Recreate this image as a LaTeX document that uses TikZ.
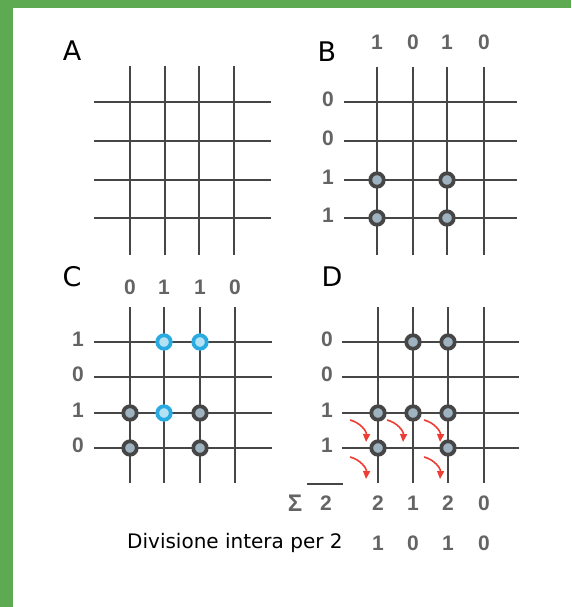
\documentclass[tikz,border=0pt]{standalone}
\usepackage{fontspec}
\setmainfont{Liberation Sans}
\newfontfamily\scritta{DejaVu Sans}
\usetikzlibrary{arrows.meta}
\definecolor{verdebordo}{RGB}{94,170,83}
\definecolor{grigiofilo}{RGB}{70,70,70}
\definecolor{grigiocifra}{RGB}{100,100,100}
\definecolor{grigionodo}{RGB}{158,178,192}
\definecolor{azzurro}{RGB}{41,171,226}
\definecolor{rossofreccia}{RGB}{236,62,52}
\tikzset{
  filo/.style    = {draw=grigiofilo, line width=2.2pt},
  nodo/.style    = {circle, draw=grigiofilo, line width=3.8pt, fill=grigionodo, minimum size=13.5pt, inner sep=0},
  nodoblu/.style = {circle, draw=azzurro, line width=3.8pt, fill=azzurro!35, minimum size=13.5pt, inner sep=0},
  cifra/.style   = {text=grigiocifra, font=\fontsize{21}{21}\selectfont\bfseries, inner sep=0},
  lettera/.style = {font=\scritta\fontsize{27}{27}\selectfont, inner sep=0},
  didasc/.style  = {font=\scritta\fontsize{20}{20}\selectfont, inner sep=0},
  freccia/.style = {draw=rossofreccia, line width=1.6pt, -{Triangle[width=7pt,length=8pt]}}
}
\begin{document}
\begin{tikzpicture}[x=1pt,y=-1pt]
  \useasboundingbox (0,0) rectangle (571,607);
  \fill[verdebordo] (0,0) rectangle (13,607); \fill[verdebordo] (0,0) rectangle (571,8);

  \node[lettera] (A) at (72,51) {A};
  \foreach \x in {130,165,199,234} \draw[filo] (\x,66) -- (\x,255);
  \foreach \y in {102,141,180,218} \draw[filo] (94,\y) -- (271,\y);

  \node[lettera] (B) at (327,52) {B};
  \foreach \x/\v [count=\i] in {377/1,413/0,447/1,484/0} {\draw[filo] (\x,67) -- (\x,255); \node[cifra] (bc\i) at (\x,42) {\v};}
  \foreach \y/\v [count=\i] in {102/0,141/0,180/1,218/1} {\draw[filo] (344,\y) -- (517,\y); \node[cifra] (br\i) at (328,\y-3) {\v};}
  \node[nodo] (b31) at (377,180) {}; \node[nodo] (b33) at (447,180) {};
  \node[nodo] (b41) at (377,218) {}; \node[nodo] (b43) at (447,218) {};

  \node[lettera] (C) at (72,277) {C};
  \foreach \x/\v [count=\i] in {130/0,164/1,200/1,235/0} {\draw[filo] (\x,307) -- (\x,483); \node[cifra] (cc\i) at (\x,287) {\v};}
  \foreach \y/\v [count=\i] in {342/1,377/0,413/1,448/0} {\draw[filo] (94,\y) -- (272,\y); \node[cifra] (cr\i) at (78,\y-3) {\v};}
  \node[nodoblu] (c12) at (164,342) {}; \node[nodoblu] (c13) at (200,342) {}; \node[nodoblu] (c32) at (164,413) {};
  \node[nodo] (c31) at (130,413) {}; \node[nodo] (c33) at (200,413) {};
  \node[nodo] (c41) at (130,448) {}; \node[nodo] (c43) at (200,448) {};

  \node[lettera] (D) at (332,277) {D};
  \foreach \x in {378,413,448,484} \draw[filo] (\x,307) -- (\x,483);
  \foreach \y/\v [count=\i] in {342/0,377/0,413/1,448/1} {\draw[filo] (342,\y) -- (519,\y); \node[cifra] (dr\i) at (327,\y-3) {\v};}
  \node[nodo] (d12) at (413,342) {}; \node[nodo] (d13) at (448,342) {};
  \node[nodo] (d31) at (378,413) {}; \node[nodo] (d32) at (413,413) {}; \node[nodo] (d33) at (448,413) {};
  \node[nodo] (d41) at (378,448) {}; \node[nodo] (d43) at (448,448) {};
  \foreach \x/\y in {350/420,387/420,424/420,350/457,424/457} \draw[freccia] (\x,\y) to[bend left=40] (\x+16,\y+22);

  \draw[grigiofilo, line width=2pt] (307,484) -- (343,484);
  \node[cifra, font=\fontsize{24}{24}\selectfont\bfseries] (sigma) at (295,503) {Σ}; \node[cifra] (somma) at (326,503) {2};
  \foreach \x/\v [count=\i] in {378/2,413/1,448/2,484/0} \node[cifra] (s\i) at (\x,503) {\v};
  \foreach \x/\v [count=\i] in {378/1,413/0,448/1,484/0} \node[cifra] (q\i) at (\x,543) {\v};
  \node[didasc, anchor=west] (div) at (127,543) {Divisione intera per 2};
\end{tikzpicture}
\end{document}
